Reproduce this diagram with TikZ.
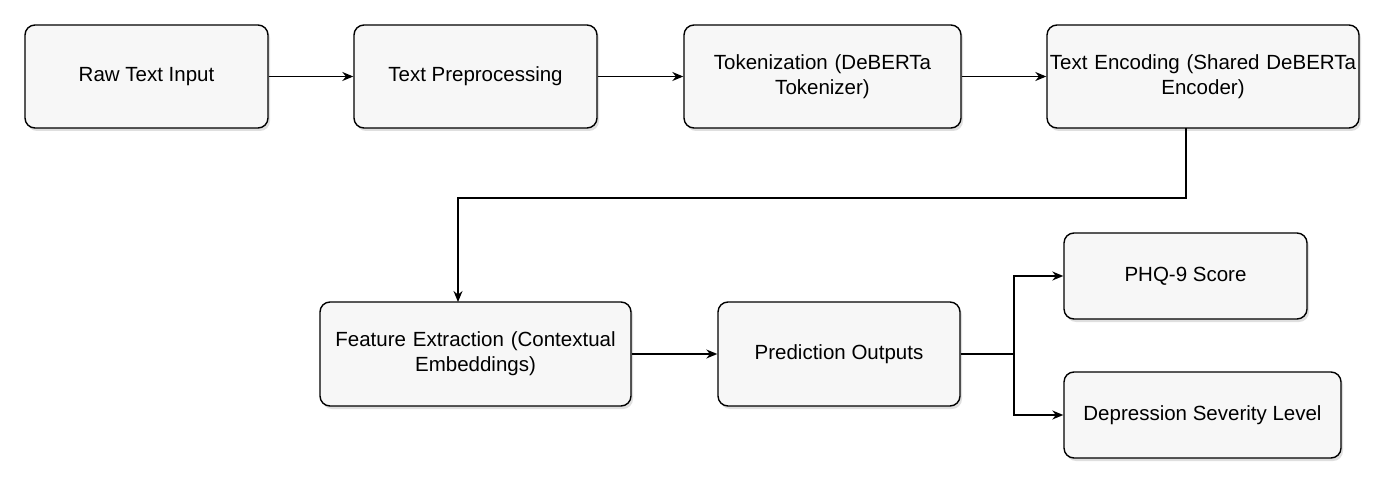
\documentclass[tikz,border=0pt]{standalone}
\usepackage{fontspec}
\setmainfont{Liberation Sans}
\usetikzlibrary{shadows,arrows.meta}
\begin{document}
\begin{tikzpicture}[x=1pt,y=-1pt,
 box/.style={draw=black,line width=1.4pt,rounded corners=10pt,fill=black!3,align=center,inner sep=2pt,
   font=\fontsize{20.5}{25}\selectfont,drop shadow={shadow xshift=2pt,shadow yshift=-3pt,opacity=0.25}},
 arr/.style={-{Stealth[length=11pt,width=9pt]},line width=1.5pt}]
\useasboundingbox[fill=white] (0,0) rectangle (1388,489);
\node[box,minimum width=243pt,minimum height=103pt] (a) at (146.5,76.5) {Raw Text Input};
\node[box,minimum width=243pt,minimum height=103pt] (b) at (475.5,76.5) {Text Preprocessing};
\node[box,minimum width=277pt,minimum height=103pt,text width=270pt] (c) at (822.5,76.5) {Tokenization (DeBERTa\\Tokenizer)};
\node[box,minimum width=312pt,minimum height=103pt,text width=332pt,inner xsep=-11pt] (d) at (1203,76.5) {Text Encoding (Shared DeBERTa\\Encoder)};
\node[box,minimum width=311pt,minimum height=104pt,text width=305pt] (e) at (475.5,354) {Feature Extraction (Contextual\\Embeddings)};
\node[box,minimum width=242pt,minimum height=104pt] (f) at (839,354) {Prediction Outputs};
\node[box,minimum width=243pt,minimum height=86pt] (g) at (1185.5,276) {PHQ-9 Score};
\node[box,minimum width=277pt,minimum height=86pt] (h) at (1202.5,415) {Depression Severity Level};
\draw[arr] (a) -- (b);
\draw[arr] (b) -- (c);
\draw[arr] (c) -- (d);
\draw[arr] (1186,128) -- (1186,198) -- (458,198) -- (458,302);
\draw[arr] (e) -- (f);
\coordinate (j) at (1014,354);
\draw[arr] (f.east) -- (j) |- (g.west);
\draw[arr] (j) |- (h.west);
\end{tikzpicture}
\end{document}
